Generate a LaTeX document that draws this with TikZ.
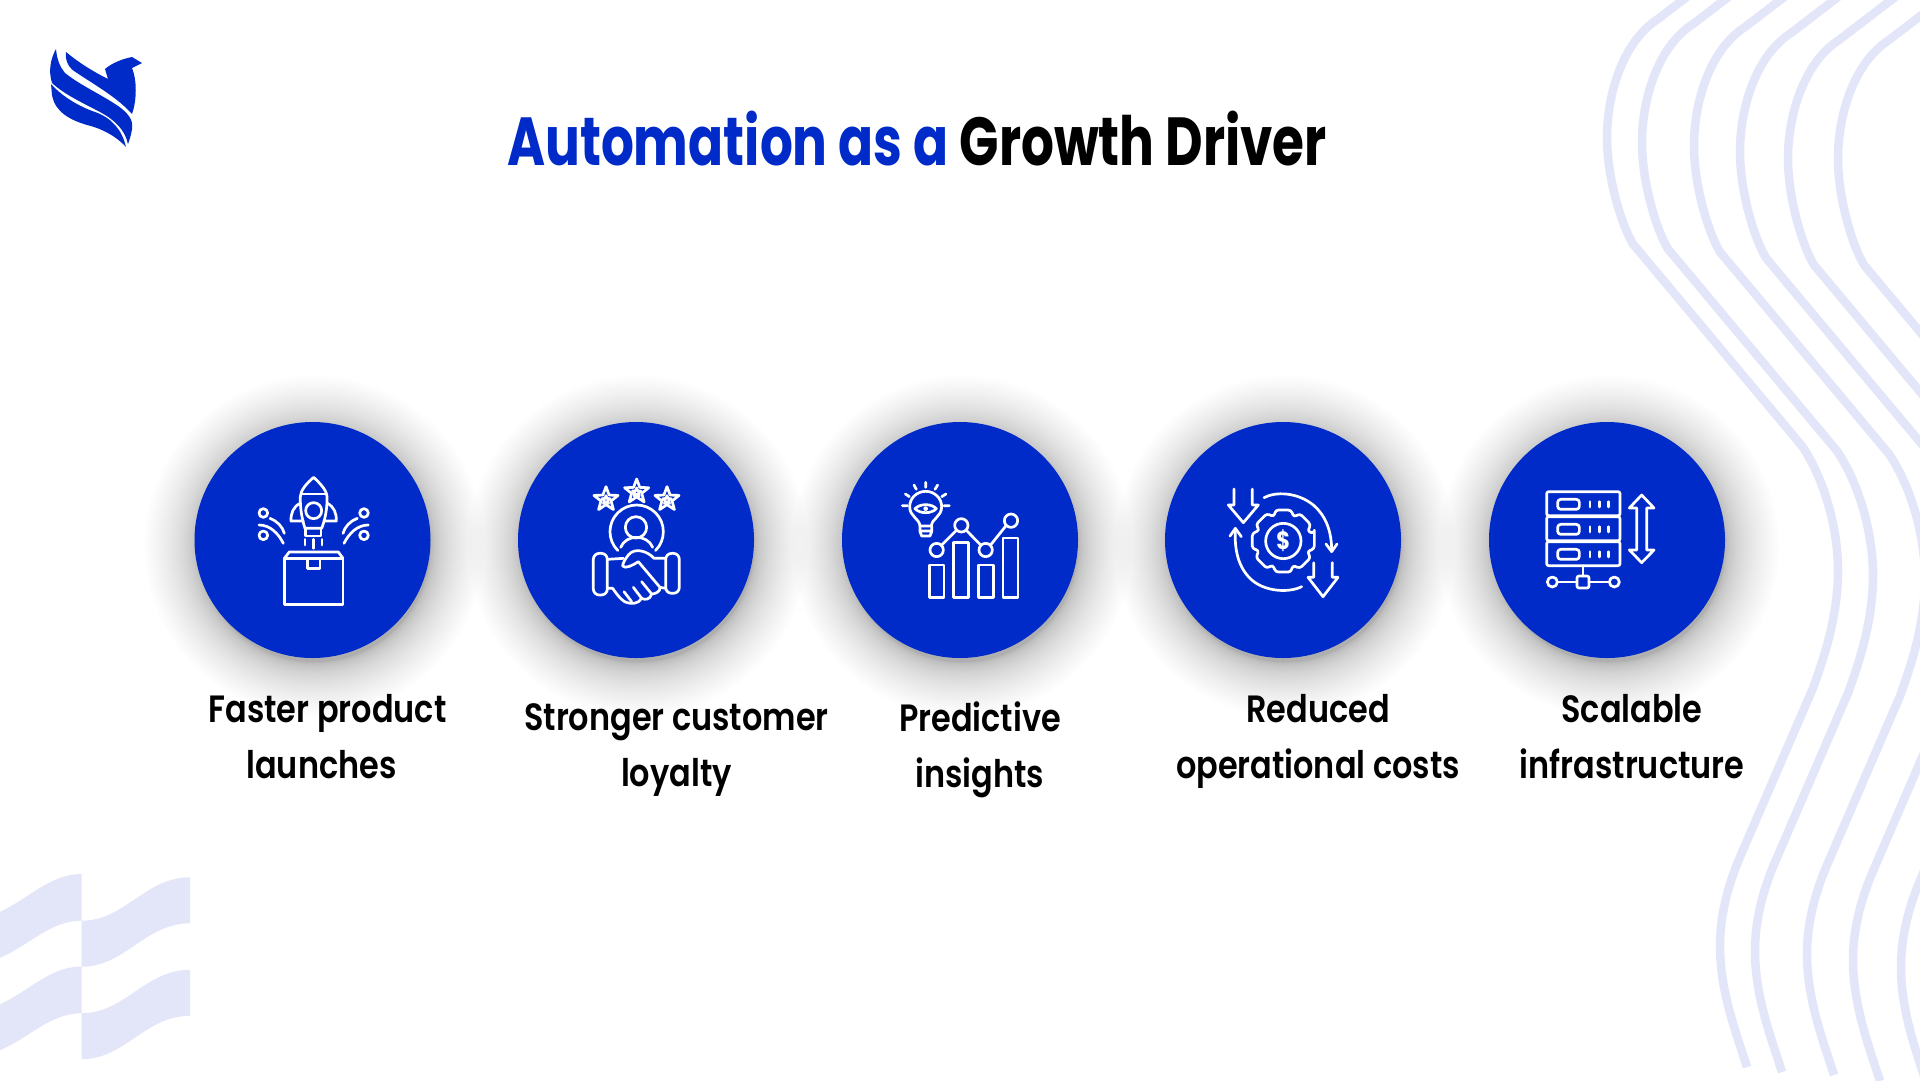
\documentclass[tikz,border=0pt]{standalone}
\usepackage{fontspec}
\setmainfont{Poppins}[FakeStretch=.84]
\newfontfamily\titlefont{Poppins}[FakeStretch=.76]
\newfontfamily\captionfont{Poppins SemiBold}[FakeStretch=.84]
\definecolor{brandblue}{HTML}{002BC8}
\definecolor{paleblue}{HTML}{E3E6F8}
\tikzset{
	disc/.style={circle,fill=brandblue,minimum size=236pt,inner sep=0pt},
	wave/.style={draw=paleblue,line width=8.5pt,line join=round},
	caption/.style={align=center,font=\fontsize{38}{56}\captionfont\selectfont,execute at begin node=\strut,execute at end node=\strut},
	iconline/.style={x=.33333pt,y=-.33333pt,draw=white,line width=2.7pt,line join=round,line cap=round}
}
\newcommand{\starmark}[3]{%
	\draw[shift={(#1,#2)}] (270:#3) -- (306:.42*#3) -- (342:#3) -- (18:.42*#3) -- (54:#3) -- (90:.42*#3) -- (126:#3) -- (162:.42*#3) -- (198:#3) -- (234:.42*#3) -- cycle;
}
\begin{document}
\begin{tikzpicture}[x=1pt,y=-1pt]
	\clip (0,0) rectangle (1920,1080);
	\fill[white] (0,0) rectangle (1920,1080);

	%wavy lines on the right
	\foreach \dx/\dy in {0/0,35/5,87/8,133/14,181/21,231/21}{
		\draw[wave,shift={(\dx,\dy)}] (1722,-30) -- (1658,19)
		.. controls (1625,40) and (1607,90) .. (1607,138)
		.. controls (1607,175) and (1620,222) .. (1633,244) -- (1802,446)
		.. controls (1825,480) and (1838,530) .. (1838,570)
		.. controls (1838,615) and (1825,655) .. (1813,688) -- (1740,857)
		.. controls (1728,885) and (1720,915) .. (1720,946)
		.. controls (1720,990) and (1735,1030) .. (1747,1067);
	}

	%flag in the corner
	\foreach \dy in {0,92.5}{
		\begin{scope}[shift={(0,\dy)}]
			\fill[paleblue] (0,911.7) .. controls (30,898) and (50,874) .. (81.7,874) -- (81.7,920.7)
			.. controls (50,920.7) and (30,945) .. (0,957.7) -- cycle;
			\fill[paleblue] (81.7,920.7) .. controls (125,920.7) and (145,877.3) .. (190,877.3) -- (190,923.3)
			.. controls (145,923.3) and (125,966.7) .. (81.7,966.7) -- cycle;
		\end{scope}
	}

	%logo
	\fill[brandblue] (66,52) .. controls (78,62) and (92,71) .. (108,79) -- (105,69)
	.. controls (112,63) and (122,59) .. (132,57) -- (142,63) -- (132,68)
	.. controls (137,80) and (137,100) .. (132,114)
	.. controls (118,98) and (95,85) .. (77,73)
	.. controls (68,68) and (65,60) .. (66,52) -- cycle;
	\fill[brandblue] (56,49) .. controls (57,60) and (60,67) .. (65,73)
	.. controls (80,85) and (100,94) .. (115,104)
	.. controls (125,110) and (132,118) .. (132,124)
	.. controls (133,130) and (130,138) .. (128,144)
	.. controls (125,130) and (115,120) .. (100,112)
	.. controls (85,104) and (65,95) .. (52,83)
	.. controls (48,70) and (51,58) .. (56,49) -- cycle;
	\fill[brandblue] (51,84) .. controls (60,94) and (75,105) .. (95,112)
	.. controls (112,118) and (122,130) .. (126,147)
	.. controls (115,135) and (100,128) .. (87,125)
	.. controls (70,120) and (55,112) .. (52,95) -- cycle;

	%title
	\node[anchor=base,font=\fontsize{68}{72}\titlefont\selectfont\bfseries] (title) at (917,165)
	{\textcolor{brandblue}{Automation as a} Growth Driver};

	%discs with their shadows
	\foreach \cx/\id in {312.5/launch,636/loyal,960/insight,1283/cost,1607/scale}{
		\foreach \k in {1,...,40}{
			\fill[black,opacity=.008] (\cx+2,546) circle ({116+54*(\k/40)^2});
		}
		\node[disc] (disc\id) at (\cx,540) {};
	}

	%rocket and box
	\begin{scope}[shift={(220,450)},iconline]
		\draw (255,235) .. controls (245,205) and (240,170) .. (241,140)
		.. controls (242,120) and (260,100) .. (281,82)
		.. controls (300,100) and (320,120) .. (321,140)
		.. controls (322,170) and (317,205) .. (305,235) -- cycle;
		\draw (245,132) -- (317,132);
		\draw (281,182) circle (24);
		\draw (240,160) .. controls (220,170) and (212,190) .. (213,213) -- (250,213);
		\draw (322,160) .. controls (342,170) and (350,190) .. (349,213) -- (312,213);
		\draw (257,237) -- (257,258) -- (303,258) -- (303,237);
		\draw (255,268) -- (255,285) (281,268) -- (281,295) (306,268) -- (306,285);
		\draw (193,325) rectangle (369,463);
		\draw (193,325) -- (208,306) -- (355,306) -- (369,325);
		\draw (262,325) -- (262,355) -- (300,355) -- (300,325);
		\draw (130,189) circle (13) (130,256) circle (13) (432,189) circle (13) (432,256) circle (13);
		\draw (150,205) .. controls (170,212) and (188,230) .. (193,250);
		\draw (117,225) .. controls (150,225) and (175,250) .. (190,280);
		\draw (412,205) .. controls (392,212) and (374,230) .. (369,250);
		\draw (445,225) .. controls (412,225) and (387,250) .. (372,280);
	\end{scope}

	%stars and handshake
	\begin{scope}[shift={(550,450)},iconline]
		\starmark{168}{148}{38}
		\starmark{260}{125}{38}
		\starmark{351}{148}{38}
		\starmark{168}{150}{13}
		\starmark{260}{127}{13}
		\starmark{351}{150}{13}
		\draw (260,245) ++(135:80) arc[start angle=135,end angle=405,radius=80];
		\draw (258,232) circle (32);
		\draw (212,292) .. controls (220,272) and (240,262) .. (260,262) .. controls (280,262) and (300,272) .. (308,292);
		\draw[rounded corners=6pt] (130,310) rectangle (172,435);
		\draw[rounded corners=6pt] (347,310) rectangle (388,430);
		\draw (172,328) -- (220,325);
		\draw (347,325) -- (312,325) .. controls (295,305) and (255,290) .. (235,315)
		.. controls (225,328) and (218,340) .. (218,348) .. controls (225,358) and (250,345) .. (265,335)
		-- (330,412) .. controls (332,425) and (315,432) .. (305,432)
		.. controls (300,450) and (285,450) .. (275,445) .. controls (265,462) and (245,462) .. (232,458)
		.. controls (215,455) and (195,425) .. (188,415) -- (172,415);
		\draw (330,412) -- (347,415);
		\draw (222,425) -- (245,455) (250,412) -- (275,445) (275,395) -- (305,432);
	\end{scope}

	%bulb and chart
	\begin{scope}[shift={(870,450)},iconline]
		\draw (150,228) .. controls (148,205) and (119,200) .. (119,170)
		.. controls (119,145) and (140,124) .. (167,124)
		.. controls (194,124) and (215,145) .. (215,170)
		.. controls (215,200) and (186,205) .. (184,228) -- cycle;
		\draw (150,228) -- (150,245) -- (155,258) -- (180,258) -- (185,245) -- (185,228) (150,243) -- (185,243);
		\draw (135,176) .. controls (150,160) and (184,160) .. (199,176) .. controls (184,192) and (150,192) .. (135,176) -- cycle;
		\fill[white] (167,176) circle (7);
		\draw (97,167) -- (112,167) (106,132) -- (118,140) (132,105) -- (139,118) (167,97) -- (167,112)
		(203,105) -- (195,118) (228,132) -- (215,140) (222,167) -- (238,167);
		\draw (178,345) rectangle (222,442) (251,278) rectangle (296,442);
		\draw (325,345) rectangle (370,442) (399,264) rectangle (444,442);
		\draw (200,300) circle (20) (274,226) circle (20) (347,300) circle (20) (423,212) circle (20);
		\draw (214,286) -- (260,240) (288,240) -- (333,286) (361,286) -- (409,226);
	\end{scope}

	%gear and arrows
	\begin{scope}[shift={(1200,450)},iconline]
		\draw (102,117) -- (102,165) -- (85,165) -- (130,218) -- (175,165) -- (157,165) -- (157,117);
		\draw (341,338) -- (341,382) -- (324,382) -- (369,440) -- (414,382) -- (397,382) -- (397,338);
		\draw (192,143) .. controls (225,125) and (290,125) .. (340,165) .. controls (375,195) and (395,240) .. (395,302);
		\draw (378,282) -- (395,305) -- (411,282);
		\draw (305,410) .. controls (265,430) and (190,425) .. (150,385) .. controls (115,350) and (103,300) .. (106,240);
		\draw (90,258) -- (106,235) -- (124,260);
		\begin{scope}[shift={(250,273)}]
			\draw[rounded corners=3pt] (-14:96) \foreach \a in {0,45,...,315}{ -- (\a-14:96) -- (\a+14:96) -- (\a+24:78)} -- cycle;
			\draw (0,0) circle (53);
			\node[text=white,inner sep=0pt,font=\fontsize{25}{25}\selectfont\bfseries] (dollar) at (0,0) {\$};
		\end{scope}
	\end{scope}

	%server rack
	\begin{scope}[shift={(1510,450)},iconline]
		\foreach \ty in {125,200,275}{
			\draw[rounded corners=2pt] (110,\ty) rectangle (330,\ty+72);
			\draw[rounded corners=3pt] (143,\ty+23) rectangle (208,\ty+53);
			\draw (240,\ty+30) -- (240,\ty+46) (268,\ty+30) -- (268,\ty+46) (296,\ty+30) -- (296,\ty+46);
		}
		\draw (219,347) -- (219,378);
		\draw[rounded corners=2pt] (201,378) rectangle (237,414);
		\draw (127,396) circle (15) (313,396) circle (15);
		\draw (142,396) -- (201,396) (237,396) -- (298,396);
		\draw (395,135) -- (358,174) -- (380,174) -- (380,300) -- (358,300) -- (395,338) -- (432,300) -- (410,300) -- (410,174) -- (432,174) -- cycle;
	\end{scope}

	%captions
	\node[caption] (launchtext) at (327.5,744.8) {Faster product\\launches\hspace*{12pt}};
	\node[caption] (loyaltext) at (676.5,753.4) {Stronger customer\\loyalty};
	\node[caption] (insighttext) at (980,753.4) {Predictive\\insights};
	\node[caption] (costtext) at (1318,744.8) {Reduced\\operational costs};
	\node[caption] (scaletext) at (1632,744.8) {Scalable\\infrastructure};
\end{tikzpicture}
\end{document}
